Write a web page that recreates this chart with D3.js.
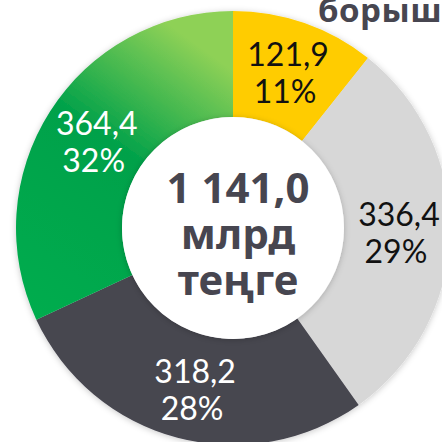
<!DOCTYPE html>
<html>
<head>
<meta charset="utf-8">
<script src="https://cdn.jsdelivr.net/npm/d3@7"></script>
<style>
  html, body { margin: 0; padding: 0; background: #fff; overflow: hidden; }
  svg { display: block; }
</style>
</head>
<body>
<script>
const w = 442;
const h = 442;

// data
const categories = ["yellow", "gray", "dark", "green"];
const values = [121.9, 336.4, 318.2, 364.4];
const valueLabels = ["121,9", "336,4", "318,2", "364,4"];
const percentLabels = ["11%", "29%", "28%", "32%"];
const totalLines = ["1 141,0", "млрд", "теңге"];
const titleText = "борыш";

const colors = ["#ffcc00", "#d7d7d7", "#474650", "url(#greenGrad)"];
const textColors = ["#111111", "#111111", "#ffffff", "#ffffff"];

const cx = 233, cy = 228;
const outerR = 217, innerR = 111;

const svg = d3.select("body").append("svg")
  .attr("width", w)
  .attr("height", h);

const defs = svg.append("defs");

// green slice goes from light at the top to deep green lower down
const grad = defs.append("linearGradient")
  .attr("id", "greenGrad")
  .attr("gradientUnits", "userSpaceOnUse")
  .attr("x1", cx).attr("y1", cy - outerR)
  .attr("x2", cx - 200).attr("y2", cy + 60);
grad.append("stop").attr("offset", 0).attr("stop-color", "#8ed156");
grad.append("stop").attr("offset", 0.38).attr("stop-color", "#00a14a");
grad.append("stop").attr("offset", 1).attr("stop-color", "#00ae4f");

const shadow = defs.append("filter")
  .attr("id", "shadow")
  .attr("x", "-20%").attr("y", "-20%")
  .attr("width", "140%").attr("height", "140%");
shadow.append("feDropShadow")
  .attr("dx", 0).attr("dy", 1)
  .attr("stdDeviation", 3)
  .attr("flood-color", "#000")
  .attr("flood-opacity", 0.22);

// title, cut at the right edge like in the picture
svg.append("text")
  .attr("x", 318)
  .attr("y", 22)
  .attr("font-family", "'Noto Sans', sans-serif")
  .attr("font-weight", 700)
  .attr("font-size", 33)
  .attr("letter-spacing", 0.5)
  .attr("fill", "#474650")
  .text(titleText);

const pie = d3.pie().sort(null).value((d) => d);
const arcs = pie(values);

const arc = d3.arc().innerRadius(innerR).outerRadius(outerR);

const g = svg.append("g")
  .attr("transform", "translate(" + cx + "," + cy + ")");

g.append("g")
  .attr("filter", "url(#shadow)")
  .selectAll("path")
  .data(arcs)
  .enter()
  .append("path")
  .attr("d", arc)
  .attr("fill", (d, i) => colors[i]);

// white hole with a soft shadow
g.append("circle")
  .attr("r", innerR)
  .attr("fill", "#fff")
  .attr("filter", "url(#shadow)");

// label positions along the ring
const labelArc = d3.arc().innerRadius(164).outerRadius(164);
const labelShift = [[1, -1], [2, 0], [4, 2], [2, 1]];

const labels = g.selectAll(".lbl")
  .data(arcs)
  .enter()
  .append("text")
  .attr("class", "lbl")
  .attr("text-anchor", "middle")
  .attr("font-family", "Lato, sans-serif")
  .attr("font-weight", 400)
  .attr("font-size", 32)
  .attr("fill", (d, i) => textColors[i])
  .attr("transform", (d, i) => {
    const c = labelArc.centroid(d);
    return "translate(" + (c[0] + labelShift[i][0]) + "," + (c[1] + labelShift[i][1]) + ")";
  });

labels.append("tspan")
  .attr("x", 0)
  .attr("y", -6)
  .text((d, i) => valueLabels[i]);
labels.append("tspan")
  .attr("x", -3)
  .attr("y", 31)
  .text((d, i) => percentLabels[i]);

// total in the middle
g.append("text")
  .attr("text-anchor", "middle")
  .attr("font-family", "'Noto Sans', sans-serif")
  .attr("font-weight", 700)
  .attr("font-size", 42)
  .attr("fill", "#474650")
  .selectAll("tspan")
  .data(totalLines)
  .enter()
  .append("tspan")
  .attr("x", 5)
  .attr("y", (d, i) => -25 + i * 46)
  .text((d) => d);
</script>
</body>
</html>
